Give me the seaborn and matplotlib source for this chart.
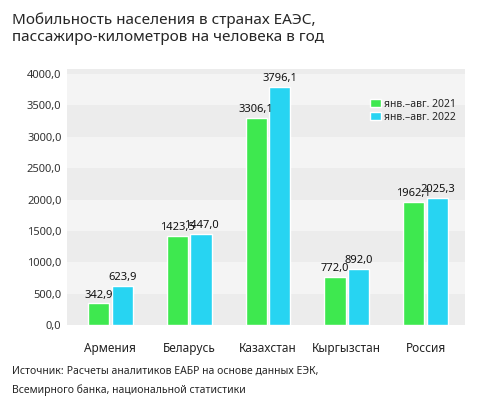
import matplotlib
matplotlib.use("Agg")
import matplotlib.pyplot as plt
import seaborn as sns
import pandas as pd

countries = ["Армения", "Беларусь", "Казахстан", "Кыргызстан", "Россия"]
v2021 = [342.9, 1423.5, 3306.1, 772.0, 1962.1]
v2022 = [623.9, 1447.0, 3796.1, 892.0, 2025.3]
series = ["янв.–авг. 2021", "янв.–авг. 2022"]
yticks = [0, 500, 1000, 1500, 2000, 2500, 3000, 3500, 4000]

df = pd.DataFrame({
    "country": countries * 2,
    "value": v2021 + v2022,
    "series": [series[0]] * 5 + [series[1]] * 5,
})

sns.set_theme(style="white")
plt.rcParams['font.family'] = ['Noto Sans', 'DejaVu Sans']
fig = plt.figure(figsize=(4.89, 4.0), dpi=100)
ax = fig.add_axes([0.137, 0.1875, 0.814, 0.64])
for i in range(8):
    ax.axhspan(yticks[i], yticks[i + 1], color="#ececec" if i % 2 == 0 else "#f4f4f4", zorder=0, lw=0)
ax.axhspan(4000, 4080, color="#ececec", zorder=0, lw=0)
sns.barplot(data=df, x="country", y="value", hue="series",
            palette=["#3ee84f", "#27d4f2"], width=0.6, gap=0.1, ax=ax, zorder=3, saturation=1)
for cont in ax.containers:
    ax.bar_label(cont, labels=[f"{v:.1f}".replace(".", ",") for v in cont.datavalues],
                 fontsize=8, fontweight="bold", padding=2, color="#111111")
ax.set_ylim(0, 4080)
ax.set_xlim(-0.55, 4.5)
ax.set_yticks(yticks)
ax.set_yticklabels([f"{v:.1f}".replace(".", ",") for v in yticks], fontsize=8, color="#333333")
ax.tick_params(axis="x", labelsize=8.5, colors="#222222", pad=6)
ax.tick_params(axis="y", pad=4, length=0)
ax.set_xlabel("")
ax.set_ylabel("")
for s in ax.spines.values():
    s.set_visible(False)
leg = ax.legend(loc="upper right", bbox_to_anchor=(1.0, 0.92), frameon=False, fontsize=7.5,
                handlelength=0.8, handleheight=0.8, handletextpad=0.5, labelspacing=0.2)
for h in leg.legend_handles:
    h.set_width(8)
fig.text(0.025, 0.97, "Мобильность населения в странах ЕАЭС,\nпассажиро-километров на человека в год",
         fontsize=11, fontweight="bold", va="top", linespacing=1.2)
t = fig.text(0.025, 0.085, "Источник:", fontsize=7.5, fontweight="bold", va="top")
fig.canvas.draw()
ax.annotate(" Расчеты аналитиков ЕАБР на основе данных ЕЭК,", xy=(1, 1), xycoords=t,
            fontsize=7.5, va="top", ha="left", annotation_clip=False)
fig.text(0.025, 0.04, "Всемирного банка, национальной статистики", fontsize=7.5, va="top")
fig.savefig("out.png", dpi=100, facecolor="white")
